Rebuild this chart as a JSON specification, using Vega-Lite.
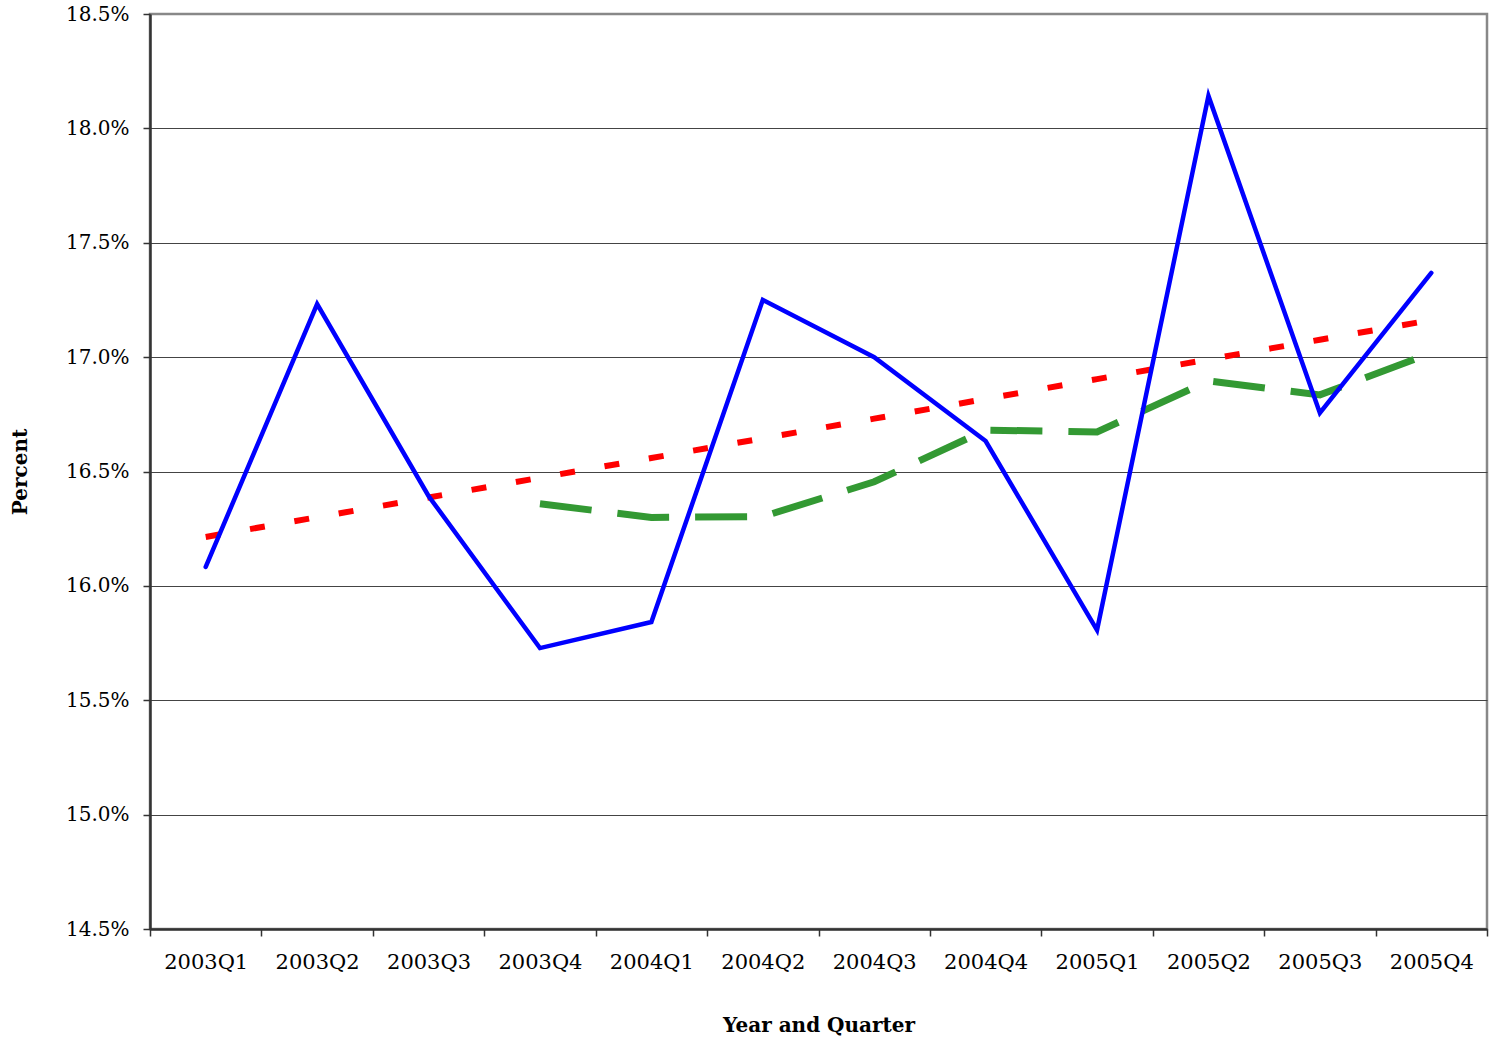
{
  "$schema": "https://vega.github.io/schema/vega-lite/v6.json",
  "width": 1337,
  "height": 915,
  "autosize": {"type": "none"},
  "padding": {"left": 150, "top": 14, "right": 5, "bottom": 108},
  "background": "white",
  "config": {
    "view": {"stroke": "#888888", "strokeWidth": 2.5},
    "font": "DejaVu Serif"
  },
  "data": {
    "values": [
      {"quarter": "2003Q1", "series": "actual", "value": 16.083},
      {"quarter": "2003Q2", "series": "actual", "value": 17.232},
      {"quarter": "2003Q3", "series": "actual", "value": 16.393},
      {"quarter": "2003Q4", "series": "actual", "value": 15.728},
      {"quarter": "2004Q1", "series": "actual", "value": 15.842},
      {"quarter": "2004Q2", "series": "actual", "value": 17.25},
      {"quarter": "2004Q3", "series": "actual", "value": 17.0},
      {"quarter": "2004Q4", "series": "actual", "value": 16.633},
      {"quarter": "2005Q1", "series": "actual", "value": 15.807},
      {"quarter": "2005Q2", "series": "actual", "value": 18.142},
      {"quarter": "2005Q3", "series": "actual", "value": 16.756},
      {"quarter": "2005Q4", "series": "actual", "value": 17.368},
      {"quarter": "2003Q1", "series": "trend", "value": 16.214},
      {"quarter": "2003Q2", "series": "trend", "value": 16.300},
      {"quarter": "2003Q3", "series": "trend", "value": 16.386},
      {"quarter": "2003Q4", "series": "trend", "value": 16.473},
      {"quarter": "2004Q1", "series": "trend", "value": 16.559},
      {"quarter": "2004Q2", "series": "trend", "value": 16.645},
      {"quarter": "2004Q3", "series": "trend", "value": 16.731},
      {"quarter": "2004Q4", "series": "trend", "value": 16.817},
      {"quarter": "2005Q1", "series": "trend", "value": 16.904},
      {"quarter": "2005Q2", "series": "trend", "value": 16.990},
      {"quarter": "2005Q3", "series": "trend", "value": 17.076},
      {"quarter": "2005Q4", "series": "trend", "value": 17.162},
      {"quarter": "2003Q4", "series": "movavg", "value": 16.359},
      {"quarter": "2004Q1", "series": "movavg", "value": 16.299},
      {"quarter": "2004Q2", "series": "movavg", "value": 16.303},
      {"quarter": "2004Q3", "series": "movavg", "value": 16.455},
      {"quarter": "2004Q4", "series": "movavg", "value": 16.681},
      {"quarter": "2005Q1", "series": "movavg", "value": 16.673},
      {"quarter": "2005Q2", "series": "movavg", "value": 16.896},
      {"quarter": "2005Q3", "series": "movavg", "value": 16.835},
      {"quarter": "2005Q4", "series": "movavg", "value": 17.018}
    ]
  },
  "encoding": {
    "x": {
      "field": "quarter",
      "type": "ordinal",
      "sort": null,
      "scale": {"type": "band", "paddingInner": 0, "paddingOuter": 0},
      "axis": {
        "title": "Year and Quarter",
        "titleFont": "DejaVu Serif",
        "titleFontWeight": "bold",
        "titleFontSize": 20,
        "titleColor": "black",
        "titleBaseline": "alphabetic",
        "titleY": 102,
        "labelAngle": 0,
        "labelFont": "DejaVu Serif",
        "labelFontSize": 21,
        "labelColor": "black",
        "labelPadding": 15,
        "tickBand": "extent",
        "tickSize": 7,
        "tickColor": "#333333",
        "tickWidth": 1.5,
        "domainColor": "#333333",
        "domainWidth": 2.5,
        "grid": false
      }
    },
    "y": {
      "field": "value",
      "type": "quantitative",
      "scale": {"domain": [14.5, 18.5], "nice": false, "zero": false},
      "axis": {
        "title": "Percent",
        "titleFont": "DejaVu Serif",
        "titleFontWeight": "bold",
        "titleFontSize": 20,
        "titleColor": "black",
        "titleBaseline": "alphabetic",
        "titleX": -124,
        "values": [14.5, 15, 15.5, 16, 16.5, 17, 17.5, 18, 18.5],
        "labelExpr": "format(datum.value, '.1f') + '%'",
        "labelFont": "DejaVu Serif",
        "labelFontSize": 20,
        "labelColor": "black",
        "labelPadding": 14,
        "tickSize": 7,
        "tickColor": "#333333",
        "tickWidth": 1.5,
        "domainColor": "#333333",
        "domainWidth": 2.5,
        "grid": true,
        "gridColor": {"condition": {"test": "datum.value >= 18.5", "value": "#888888"}, "value": "#444444"},
        "gridWidth": 1.2
      }
    }
  },
  "layer": [
    {
      "transform": [{"filter": "datum.series === 'trend'"}],
      "mark": {"type": "line", "color": "#FF0000", "strokeWidth": 6, "strokeDash": [15, 30], "strokeCap": "butt"}
    },
    {
      "transform": [{"filter": "datum.series === 'movavg'"}],
      "mark": {"type": "line", "color": "#339933", "strokeWidth": 7, "strokeDash": [52, 26], "strokeCap": "butt"}
    },
    {
      "transform": [{"filter": "datum.series === 'actual'"}],
      "mark": {"type": "line", "color": "#0000FF", "strokeWidth": 4.5, "strokeCap": "round", "strokeJoin": "miter"}
    }
  ]
}
